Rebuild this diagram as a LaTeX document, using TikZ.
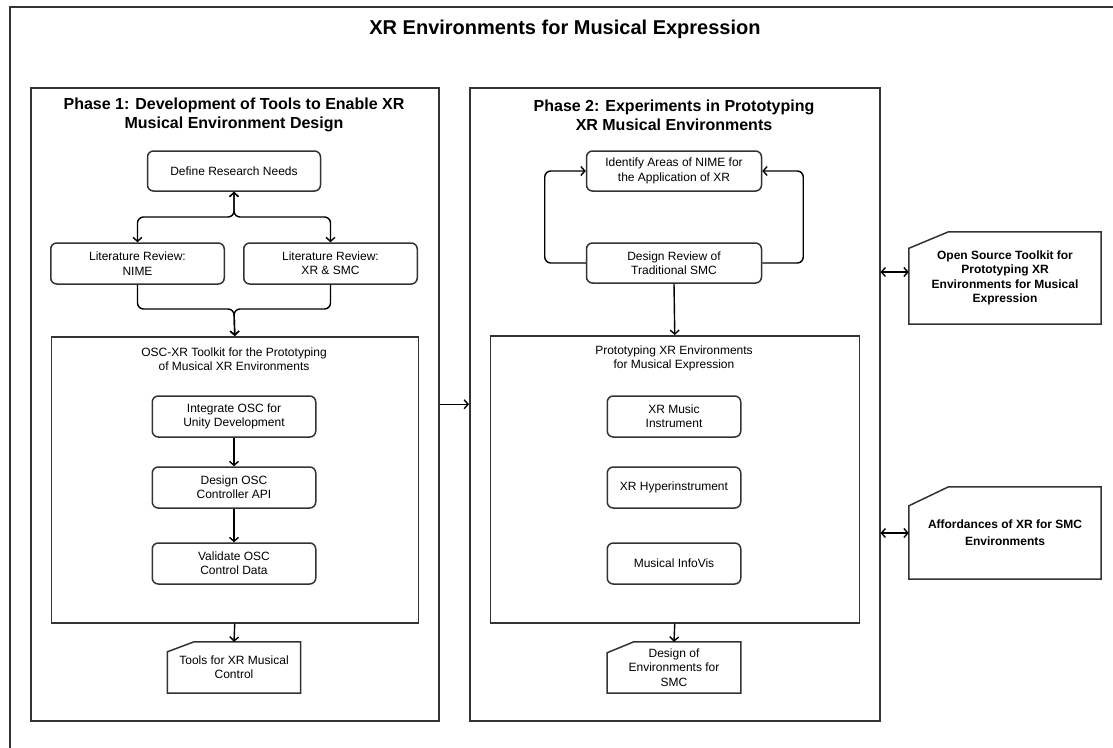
\documentclass[tikz,border=0pt]{standalone}
\usepackage{fontspec}
\setmainfont{Liberation Sans}
\usetikzlibrary{arrows.meta}
\definecolor{linegray}{HTML}{333333}
% outline of a card shape (rectangle with the top-left corner cut off)
\newcommand\cardoutline[3]{%
  \draw[docline] ([yshift=-#2]#1.north west) -- ([xshift=#3]#1.north west)
    -- (#1.north east) -- (#1.south east) -- (#1.south west) -- cycle;}
\begin{document}
\begin{tikzpicture}[x=1pt,y=-1pt,
  font=\fontsize{12}{14.4}\selectfont,
  box/.style={draw=linegray, line width=1.5pt, rounded corners=6pt,
    minimum height=41pt, align=center, inner sep=2pt},
  container/.style={draw=linegray, line width=1.5pt, anchor=north west,
    inner sep=0pt},
  card/.style={align=center, inner sep=0pt},
  boldcard/.style={card, font=\bfseries\fontsize{12}{14.4}\selectfont},
  docline/.style={draw=linegray, line width=1.5pt},
  phasetitle/.style={align=center, font=\bfseries\fontsize{16}{19.2}\selectfont},
  caption/.style={align=center},
  conn/.style={line width=1.4pt, -{Straight Barb[length=4pt,width=9pt]}},
  dconn/.style={line width=1.4pt,
    {Straight Barb[length=4pt,width=9pt]}-{Straight Barb[length=4pt,width=9pt]}},
]
\useasboundingbox (0,0) rectangle (1113,747);

% overall frame (runs past the right and bottom page edges)
\draw[linegray, line width=1.8pt] (10,760) -- (10,7) -- (1125,7);
\node[font=\bfseries\fontsize{20}{24}\selectfont] (title) at (565,29)
  {XR Environments for Musical Expression};

% ---------------- Phase 1 ----------------
\node[container, minimum width=408pt, minimum height=633pt] (p1) at (30,87) {};
\node[phasetitle] (p1title) at (234,114.5)
  {Phase 1: Development of Tools to Enable XR\\Musical Environment Design};

\node[box, minimum width=173pt, minimum height=40pt] (def) at (234,171)
  {Define Research Needs};
\node[box, minimum width=173.5pt] (nime) at (137.5,263.5)
  {Literature Review:\\NIME};
\node[box, minimum width=173.5pt] (xrsmc) at (330.5,263.5)
  {Literature Review:\\XR \& SMC};

\node[container, minimum width=367pt, minimum height=286pt] (osc) at (50.5,336) {};
\node[caption] (osctitle) at (234,359)
  {OSC-XR Toolkit for the Prototyping\\of Musical XR Environments};

\node[box, minimum width=163.5pt] (integ) at (234,416.5)
  {Integrate OSC for\\Unity Development};
\node[box, minimum width=163.5pt] (api) at (234,487.5)
  {Design OSC\\Controller API};
\node[box, minimum width=163.5pt] (valid) at (234,563.5)
  {Validate OSC\\Control Data};

\node[card, minimum width=133pt, minimum height=51pt] (tools) at (234,667.5)
  {Tools for XR Musical\\Control};
\cardoutline{tools}{10pt}{26.7pt}

\coordinate (split) at (234,217);
\coordinate (merge) at (234,309);
\draw[dconn, rounded corners=6pt] (def.south) -- (split) -| (nime.north);
\draw[dconn, rounded corners=6pt] (def.south) -- (split) -| (xrsmc.north);
\draw[conn, rounded corners=6pt] (nime.south) |- (merge) -- (osc.north);
\draw[conn, rounded corners=6pt] (xrsmc.south) |- (merge) -- (osc.north);
\draw[conn] (integ) -- (api);
\draw[conn] (api) -- (valid);
\draw[conn] (osc.south) -- (tools.north);

% ---------------- Phase 2 ----------------
\node[container, minimum width=410pt, minimum height=633pt] (p2) at (469,87) {};
\node[phasetitle] (p2title) at (674,115)
  {Phase 2: Experiments in Prototyping\\XR Musical Environments};

\node[box, minimum width=175pt, minimum height=40pt] (ident) at (674,171)
  {Identify Areas of NIME for\\the Application of XR};
\node[box, minimum width=175pt, minimum height=40pt] (review) at (674,263)
  {Design Review of\\Traditional SMC};

\node[container, minimum width=369pt, minimum height=287pt] (proto) at (489.5,335) {};
\node[caption] (prototitle) at (674,358.5)
  {Prototyping XR Environments\\for Musical Expression};

\node[box, minimum width=133.5pt] (music) at (674,416.5)
  {XR Music\\Instrument};
\node[box, minimum width=133.5pt] (hyper) at (674,487.5)
  {XR Hyperinstrument};
\node[box, minimum width=133.5pt] (infovis) at (674,563.5)
  {Musical InfoVis};

\node[card, minimum width=133.5pt, minimum height=51pt] (denv) at (674,667.5)
  {Design of\\Environments for\\SMC};
\cardoutline{denv}{11pt}{26.7pt}

\draw[conn, rounded corners=6pt] (review.west) -- ++(-41,0) |- (ident.west);
\draw[conn, rounded corners=6pt] (review.east) -- ++(41,0) |- (ident.east);
\draw[conn] (review.south) -- (proto.north);
\draw[conn] (proto.south) -- (denv.north);

% phase hand-over
\draw[conn] (p1.east) -- (p2.west);

% ---------------- outputs ----------------
\node[boldcard, minimum width=192pt, minimum height=92pt] (toolkit) at (1005,278)
  {Open Source Toolkit for\\Prototyping XR\\Environments for Musical\\Expression};
\cardoutline{toolkit}{16.5pt}{39.7pt}

\node[boldcard, minimum width=192pt, minimum height=92pt,
  font=\bfseries\fontsize{12}{17}\selectfont] (afford) at (1005,533)
  {Affordances of XR for SMC\\Environments};
\cardoutline{afford}{19pt}{39.7pt}

\coordinate (toolkitin) at ([yshift=6pt]toolkit.west);
\draw[dconn] (toolkitin -| p2.east) -- (toolkitin);
\draw[dconn] (afford.west -| p2.east) -- (afford.west);

\end{tikzpicture}
\end{document}
